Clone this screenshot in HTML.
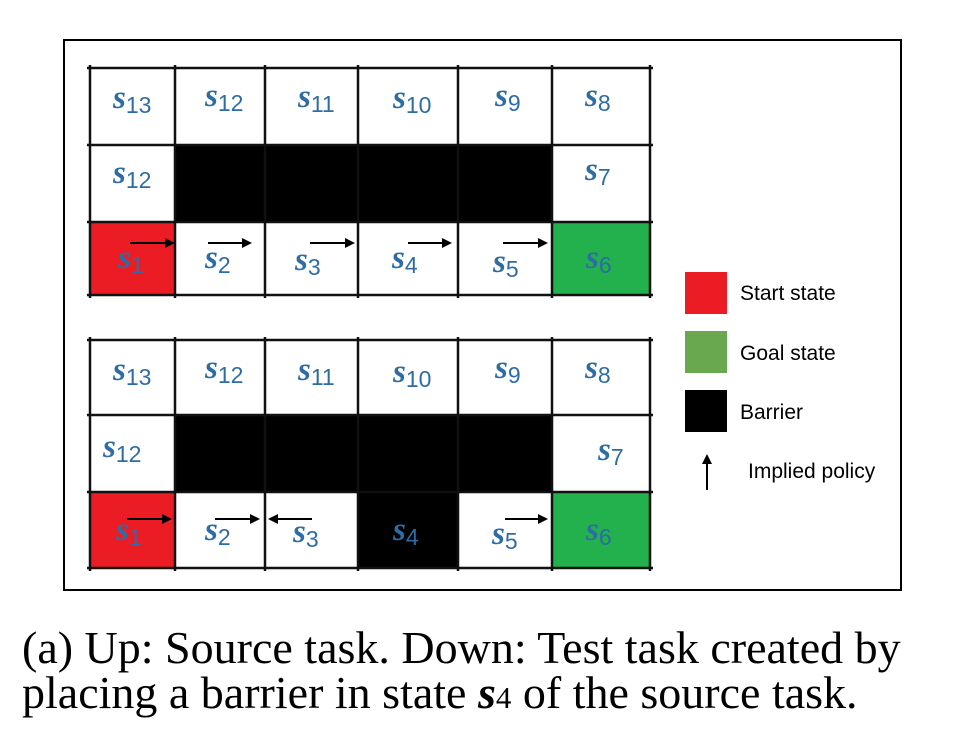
<!DOCTYPE html>
<html><head><meta charset="utf-8"><style>
body{margin:0;background:#fff;width:957px;height:738px;overflow:hidden}
.cap{position:absolute;left:22px;font-family:"Liberation Serif",serif;font-size:46px;color:#000;white-space:nowrap;line-height:1}
</style></head><body>
<svg width="957" height="600" style="position:absolute;left:0;top:0">
<rect x="64" y="40" width="837" height="550" fill="#fff" stroke="#000" stroke-width="2"/>
<g id="grids"></g>
<g font-family="Liberation Sans, sans-serif" font-size="21" fill="#000">
<rect x="685" y="272" width="42" height="42" fill="#ec1c24"/>
<text x="740" y="300">Start state</text>
<rect x="685" y="331" width="42" height="42" fill="#6aa84f"/>
<text x="740" y="360">Goal state</text>
<rect x="685" y="390" width="42" height="42" fill="#000"/>
<text x="740" y="419">Barrier</text>
<line x1="707" y1="490" x2="707" y2="462" stroke="#000" stroke-width="2"/>
<polygon points="707,454 702,464 712,464" fill="#000"/>
<text x="748" y="478">Implied policy</text>
</g>
</svg>
<div class="cap" style="top:625px">(a) Up: Source task. Down: Test task created by</div>
<div class="cap" style="top:670px">placing a barrier in state <b><i>s</i></b><span style="font-size:31px">4</span> of the source task.</div>
<script>
const xs=[90,175,265,358,458,552,650];
const grids=[
 {name:'source-grid',ys:[68,145,222,295],barriers:[[1,1],[1,2],[1,3],[1,4]],
  labels:[[0,0,'13',113,108],[0,1,'12',205,106],[0,2,'11',298,107],[0,3,'10',393,108],[0,4,'9',495,106],[0,5,'8',585,106],
   [1,0,'12',113,183],[1,5,'7',585,180],[2,0,'1',118,268],[2,1,'2',205,268],[2,2,'3',295,270],[2,3,'4',392,268],[2,4,'5',493,272],[2,5,'6',586,268]],
  arrows:[[130,175,243],[208,252,243],[310,355,243],[408,452,243],[503,548,243]]},
 {name:'test-grid',ys:[340,415,492,568],barriers:[[1,1],[1,2],[1,3],[1,4],[2,3]],
  labels:[[0,0,'13',113,380],[0,1,'12',205,378],[0,2,'11',298,380],[0,3,'10',393,382],[0,4,'9',495,378],[0,5,'8',585,378],
   [1,0,'12',103,457],[1,5,'7',598,460],[2,0,'1',116,540],[2,1,'2',205,540],[2,2,'3',293,542],[2,3,'4',393,540],[2,4,'5',492,544],[2,5,'6',586,540]],
  arrows:[[127,172,519],[215,260,519],[312,268,519],[505,548,519]]}
];
const NS='http://www.w3.org/2000/svg';
const root=document.getElementById('grids');
function mk(t,a,p){const e=document.createElementNS(NS,t);for(const k in a)e.setAttribute(k,a[k]);p.appendChild(e);return e;}
grids.forEach(g=>{
 const G=mk('g',{},root);
 
 
 const ys=g.ys;
 for(let r=0;r<3;r++)for(let c=0;c<6;c++){
  let fill='#fff';
  if(r==2&&c==0)fill='#ec1c24';
  if(r==2&&c==5)fill='#22b14c';
  if(g.barriers.some(b=>b[0]==r&&b[1]==c))fill='#000';
  const cell=mk('rect',{x:xs[c],y:ys[r],width:xs[c+1]-xs[c],height:ys[r+1]-ys[r],fill:fill},G);
  
  
 }
 xs.forEach(x=>mk('line',{x1:x,y1:ys[0]-3,x2:x,y2:ys[3]+3,stroke:'#111','stroke-width':2.5},G));
 ys.forEach(y=>mk('line',{x1:xs[0]-3,y1:y,x2:xs[6]+3,y2:y,stroke:'#111','stroke-width':2.5},G));
 g.labels.forEach(l=>{
  const t=mk('text',{x:l[3],y:l[4],fill:'#2e6da4','font-family':'Liberation Serif, serif'},G);
  
  
  const a=mk('tspan',{'font-size':33,'font-weight':'bold','font-style':'italic'},t);a.textContent='s';
  const b=mk('tspan',{'font-size':23,dy:5,'font-family':'Liberation Sans, sans-serif'},t);b.textContent=l[2];
 });
 g.arrows.forEach(a=>{
  const d=a[1]>a[0]?1:-1;
  const ar=mk('g',{},G);
  
  
  mk('line',{x1:a[0],y1:a[2],x2:a[1]-d*8,y2:a[2],stroke:'#000','stroke-width':2},ar);
  mk('polygon',{points:`${a[1]},${a[2]} ${a[1]-d*10},${a[2]-5} ${a[1]-d*10},${a[2]+5}`,fill:'#000'},ar);
 });
});
</script>
</body></html>
